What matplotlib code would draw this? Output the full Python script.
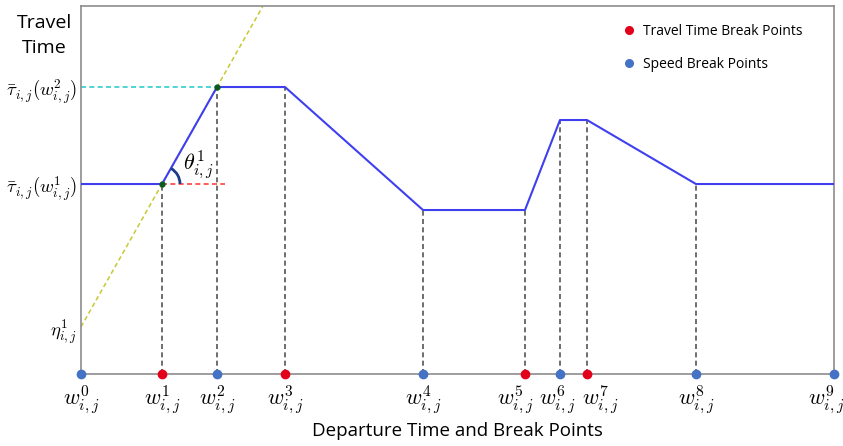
import numpy as np
import matplotlib
matplotlib.use('Agg')
import matplotlib.pyplot as plt
from matplotlib.patches import Arc
from matplotlib.lines import Line2D
from matplotlib.transforms import ScaledTranslation

plt.rcParams['mathtext.fontset'] = 'cm'

# break points along departure time (k = 0..9)
break_x = [0, 81, 136, 204, 342, 444, 479, 506, 615, 753]
# travel time at each break point
travel_time = [190, 190, 287, 287, 164, 164, 254, 254, 190, 190]
# kind of break point: 's' speed, 't' travel time
break_kind = ['s', 't', 's', 't', 's', 't', 's', 't', 's', 's']
x_labels = [r'$w^{%d}_{i,j}$' % k for k in range(10)]

blue_line = '#3f3ff0'
red_pt = '#e3001b'
blue_pt = '#4472c4'

fig = plt.figure(figsize=(8.43, 4.46), dpi=100)
ax = fig.add_axes([0.0961, 0.1614, 0.8932, 0.8251])
ax.set_xlim(0, 753)
ax.set_ylim(0, 368)

# vertical guides from axis to the curve
for xv, yv in zip(break_x[1:-1], travel_time[1:-1]):
    ax.plot([xv, xv], [0, yv], ls=(0, (3, 2)), color='#555555', lw=1.2, zorder=1)

# slope through the first rising segment
slope = (travel_time[2] - travel_time[1]) / (break_x[2] - break_x[1])
eta = travel_time[1] - slope * break_x[1]
yx = np.array([0, (368 - eta) / slope])
ax.plot(yx, eta + slope * yx, ls=(0, (3, 2)), color='#c8c832', lw=1.1, zorder=2)

# level guides
ax.plot([0, break_x[2]], [travel_time[2]] * 2, ls=(0, (3, 2)), color='#33cccc', lw=1.2, zorder=2)
ax.plot([break_x[1], 144], [travel_time[1]] * 2, ls=(0, (3, 2)), color='#ff4040', lw=1.2, zorder=2)

# travel time function
ax.plot(break_x, travel_time, color=blue_line, lw=1.5, zorder=3)
ax.plot(break_x[1:3], travel_time[1:3], 'o', color='#0b5a1e', ms=3.5, zorder=4)

# angle arc
ang = np.degrees(np.arctan(slope))
ax.add_patch(Arc((break_x[1], travel_time[1]), 36, 36, theta1=0, theta2=ang,
                 color='#1f3a8a', lw=2, zorder=4))
ax.text(102, 193, r'$\theta^1_{i,j}$', fontsize=16, ha='left', va='bottom')

# break points on the x axis
for xv, kind in zip(break_x, break_kind):
    c = red_pt if kind == 't' else blue_pt
    ax.plot(xv, 0, 'o', color=c, ms=6, clip_on=False, zorder=5)

ax.set_xticks(break_x)
ax.set_xticklabels(x_labels, fontsize=16)
ax.set_yticks([eta, travel_time[1], travel_time[2]])
ax.set_yticklabels([r'$\eta^1_{i,j}$', r'$\bar{\tau}_{i,j}(w^1_{i,j})$',
                    r'$\bar{\tau}_{i,j}(w^2_{i,j})$'], fontsize=13.5)
ax.tick_params(length=0, pad=3)
ax.tick_params(axis='x', pad=7)

# nudge crowded labels apart, as in the original sketch
shift_px = {5: -10, 6: -3, 7: 13, 9: -8}
for k, lab in enumerate(ax.get_xticklabels()):
    if k in shift_px:
        lab.set_transform(lab.get_transform() +
                          ScaledTranslation(shift_px[k] / 100, 0, fig.dpi_scale_trans))

for s in ax.spines.values():
    s.set_color('#8c8c8c')
    s.set_linewidth(1.2)

ax.set_xlabel('Departure Time and Break Points', fontsize=13.5, family='Open Sans', labelpad=4)
fig.text(0.053, 0.968, 'Travel\nTime', fontsize=14, family='Open Sans', ha='center', va='top',
         linespacing=1.5)

handles = [Line2D([], [], ls='none', marker='o', color=red_pt, ms=5.5),
           Line2D([], [], ls='none', marker='o', color=blue_pt, ms=5.5)]
ax.legend(handles, ['Travel Time Break Points', 'Speed Break Points'],
          loc='upper left', bbox_to_anchor=(0.693, 0.985), frameon=False,
          handletextpad=0.0, labelspacing=1.3, prop={'family': 'Open Sans', 'size': 10})

fig.savefig('out.png', dpi=100)
